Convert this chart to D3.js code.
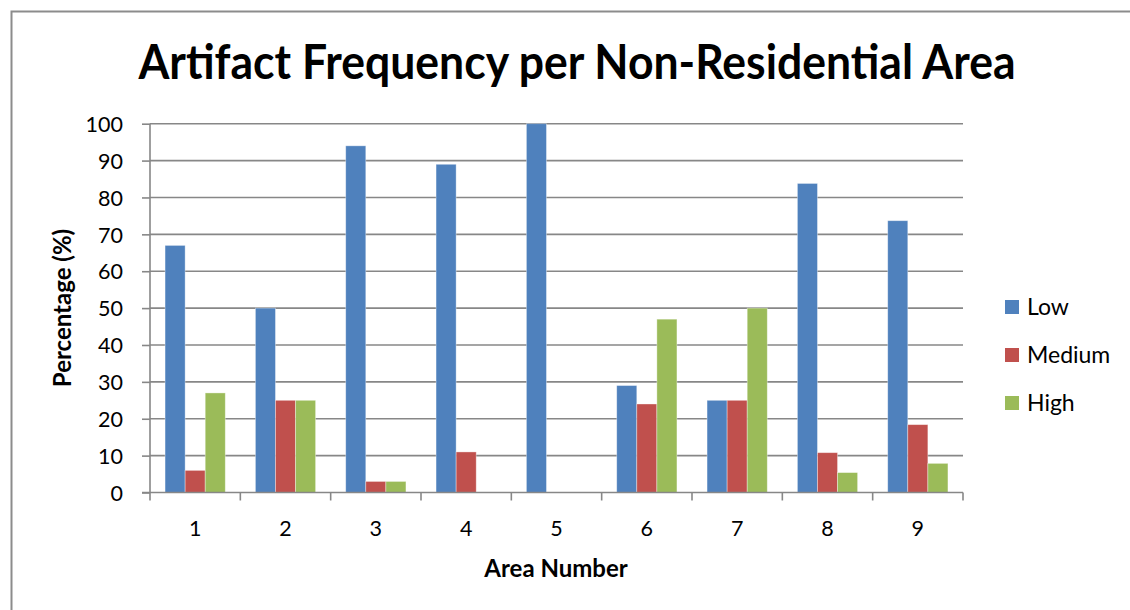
<!DOCTYPE html>
<html>
<head>
<meta charset="utf-8">
<script src="https://cdn.jsdelivr.net/npm/d3@7"></script>
<style>
  html, body { margin: 0; padding: 0; background: #fff; }
  svg { display: block; }
  text { font-family: Lato, "Open Sans", sans-serif; fill: #000; }
</style>
</head>
<body>
<svg id="chart" width="1130" height="610"></svg>
<script>
// Artifact frequency (%) by area, split into low / medium / high
const areas = ["1", "2", "3", "4", "5", "6", "7", "8", "9"];
const seriesNames = ["Low", "Medium", "High"];
const lowValues = [67, 50, 94, 89, 100, 29, 25, 83.8, 73.7];
const mediumValues = [6, 25, 3, 11, 0, 24, 25, 10.8, 18.4];
const highValues = [27, 25, 3, 0, 0, 47, 50, 5.4, 7.9];
const yTicks = [0, 10, 20, 30, 40, 50, 60, 70, 80, 90, 100];
const seriesColors = ["#4F81BD", "#C0504D", "#9BBB59"];

const values = [lowValues, mediumValues, highValues];
const rows = areas.map((a, i) => ({
  area: a,
  bars: seriesNames.map((s, k) => ({ series: s, k, value: values[k][i] }))
}));

const svg = d3.select("#chart");
const gridColor = "#878787";

// outer chart frame
svg.append("path")
  .attr("d", "M11.5,610 V11.5 H1130")
  .attr("fill", "none")
  .attr("stroke", "#8c8c8c")
  .attr("stroke-width", 2);

const plot = { left: 150, right: 963, top: 123.7, bottom: 492.5 };

const x0 = d3.scaleBand().domain(areas).range([plot.left, plot.right]).paddingInner(0).paddingOuter(0);
// gap width 150%: three bars take 3 / 4.5 of each band
const bw = x0.bandwidth();
const x1 = d3.scaleBand().domain(seriesNames).range([bw * 0.75 / 4.5, bw - bw * 0.75 / 4.5]).padding(0);
const y = d3.scaleLinear().domain([0, 100]).range([plot.bottom, plot.top]);

// horizontal gridlines
svg.append("g")
  .selectAll("line")
  .data(yTicks.filter(t => t > 0))
  .join("line")
  .attr("x1", plot.left).attr("x2", plot.right)
  .attr("y1", d => y(d)).attr("y2", d => y(d))
  .attr("stroke", gridColor).attr("stroke-width", 1.6);

// bars
const groups = svg.append("g")
  .selectAll("g")
  .data(rows)
  .join("g")
  .attr("transform", d => `translate(${x0(d.area)},0)`);

groups.selectAll("rect")
  .data(d => d.bars.filter(b => b.value > 0))
  .join("rect")
  .attr("x", d => x1(d.series))
  .attr("width", x1.bandwidth())
  .attr("y", d => y(d.value))
  .attr("height", d => y(0) - y(d.value))
  .attr("fill", d => seriesColors[d.k])
  .attr("stroke", "rgba(255,255,255,0.45)")
  .attr("stroke-width", 0.8);

// y axis
const yAxis = svg.append("g")
  .attr("transform", `translate(${plot.left},0)`)
  .call(d3.axisLeft(y).tickValues(yTicks).tickSize(8).tickPadding(19).tickFormat(d3.format("d")));
yAxis.select(".domain").attr("stroke", gridColor).attr("stroke-width", 1.6).attr("d", `M0,${plot.top}V${plot.bottom}`);
yAxis.selectAll(".tick line").attr("stroke", gridColor).attr("stroke-width", 1.6);
yAxis.selectAll(".tick text")
  .attr("font-size", 21.5)
  .attr("font-family", "Lato, 'Open Sans', sans-serif")
  .attr("fill", "#000")
  .attr("dy", "0.36em");

// x axis: ticks sit on the category boundaries
const xAxisG = svg.append("g").attr("transform", `translate(0,${plot.bottom})`);
xAxisG.append("line")
  .attr("x1", plot.left - 8).attr("x2", plot.right)
  .attr("stroke", gridColor).attr("stroke-width", 1.6);
const boundaries = areas.map(a => x0(a)).concat([plot.right]);
xAxisG.selectAll("line.b")
  .data(boundaries)
  .join("line")
  .attr("class", "b")
  .attr("x1", d => d).attr("x2", d => d)
  .attr("y1", 0).attr("y2", 8)
  .attr("stroke", gridColor).attr("stroke-width", 1.6);
xAxisG.selectAll("text")
  .data(areas)
  .join("text")
  .attr("x", d => x0(d) + bw / 2)
  .attr("y", 43)
  .attr("text-anchor", "middle")
  .attr("font-size", 21.5)
  .text(d => d);

// titles
svg.append("text")
  .attr("x", 577).attr("y", 79)
  .attr("text-anchor", "middle")
  .attr("font-size", 47)
  .attr("font-weight", 700)
  .attr("textLength", 877)
  .attr("lengthAdjust", "spacingAndGlyphs")
  .text("Artifact Frequency per Non-Residential Area");

svg.append("text")
  .attr("x", 556).attr("y", 577)
  .attr("text-anchor", "middle")
  .attr("font-size", 24)
  .attr("font-weight", 700)
  .text("Area Number");

svg.append("text")
  .attr("transform", "translate(71,308) rotate(-90)")
  .attr("text-anchor", "middle")
  .attr("font-size", 24)
  .attr("font-weight", 700)
  .text("Percentage (%)");

// legend
const legend = svg.append("g").attr("transform", "translate(1005,307)");
const items = legend.selectAll("g")
  .data(seriesNames)
  .join("g")
  .attr("transform", (d, i) => `translate(0,${i * 48})`);
items.append("rect")
  .attr("x", 0).attr("y", -7).attr("width", 14).attr("height", 14)
  .attr("fill", (d, i) => seriesColors[i]);
items.append("text")
  .attr("x", 22).attr("y", 0).attr("dy", "0.36em")
  .attr("font-size", 23)
  .text(d => d);
</script>
</body>
</html>
